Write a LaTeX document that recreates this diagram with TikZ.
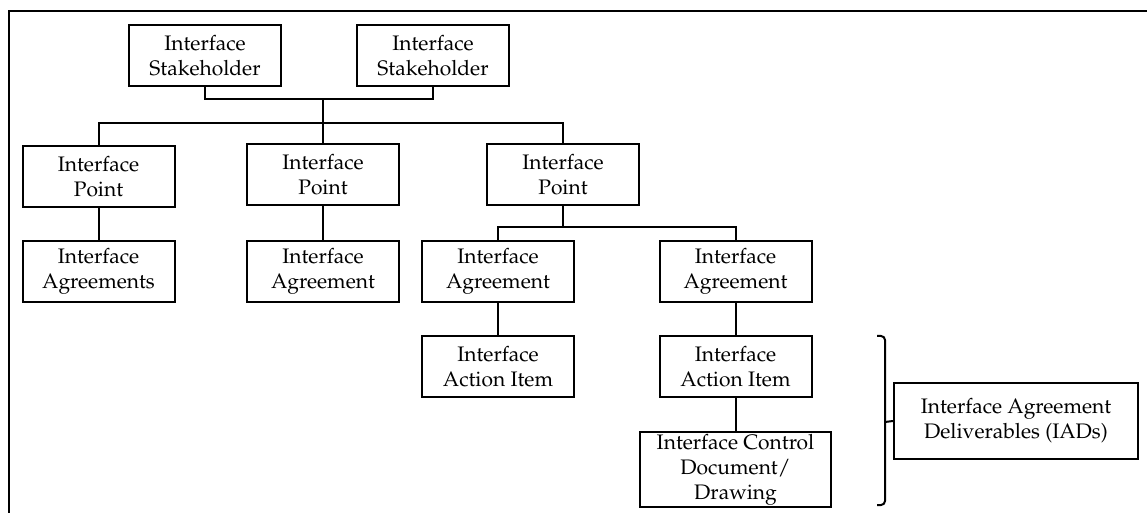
\documentclass[tikz,border=0pt]{standalone}
\usepackage[T1]{fontenc}
\usepackage{mathpazo}
\usepackage{tikz}
\usetikzlibrary{positioning}
\tikzset{
box/.style={
  draw,
  line width=1pt,
  rectangle,
  align=center,
  inner sep=0pt,
  minimum width=76pt,
  minimum height=30.5pt,
  font=\fontsize{10.5}{12.5}\selectfont
},
link/.style={line width=1pt},
}

\begin{document}
\begin{tikzpicture}[x=0.5pt,y=-0.5pt]
\useasboundingbox (0,0) rectangle (1147,513);
% the frame
\draw[line width=1.2pt] (9,513) |- (1147,11);
% the boxes
\node[box] (sh1) at (205,56) {Interface\\Stakeholder};
\node[box] (sh2) at (433,56) {Interface\\Stakeholder};
\node[box] (pt1) at (98.5,176.5) {Interface\\Point};
\node[box] (pt2) at (323,175) {Interface\\Point};
\node[box] (pt3) at (563,175) {Interface\\Point};
\node[box] (ag1) at (98.5,271.5) {Interface\\Agreements};
\node[box] (ag2) at (323,271.5) {Interface\\Agreement};
\node[box] (ag3) at (498,271.5) {Interface\\Agreement};
\node[box] (ag4) at (735.5,271.5) {Interface\\Agreement};
\node[box] (ai1) at (498,366.5) {Interface\\Action Item};
\node[box] (ai2) at (735.5,366.5) {Interface\\Action Item};
\node[box,minimum width=95.5pt,minimum height=37.5pt] (icd) at (735.5,469.5)
  {Interface Control\\Document/\\Drawing};
\node[box,minimum width=122pt,minimum height=38pt] (iad) at (1016,421)
  {Interface Agreement\\Deliverables (IADs)};
% the connectors
\coordinate (join) at (323,99);
\coordinate (bus) at (323,123);
\coordinate (bus3) at (563,227);
\draw[link] (sh1.south) |- (join) -| (sh2.south);
\draw[link] (join) -- (pt2.north);
\draw[link] (pt1.north) |- (bus) -| (pt3.north);
\draw[link] (pt1) -- (ag1);
\draw[link] (pt2) -- (ag2);
\draw[link] (pt3.south) -- (bus3);
\draw[link] (ag3.north) |- (bus3) -| (ag4.north);
\draw[link] (ag3) -- (ai1);
\draw[link] (ag4) -- (ai2);
\draw[link] (ai2) -- (icd);
% the bracket
\coordinate (brtop) at (877,336);
\coordinate (brbot) at (877,505);
\coordinate (brmid) at (885,422);
\draw[link,rounded corners=2pt] (brtop) -| (brmid) |- (brbot);
\draw[link] (brmid) -- (iad.west);
\end{tikzpicture}
\end{document}
